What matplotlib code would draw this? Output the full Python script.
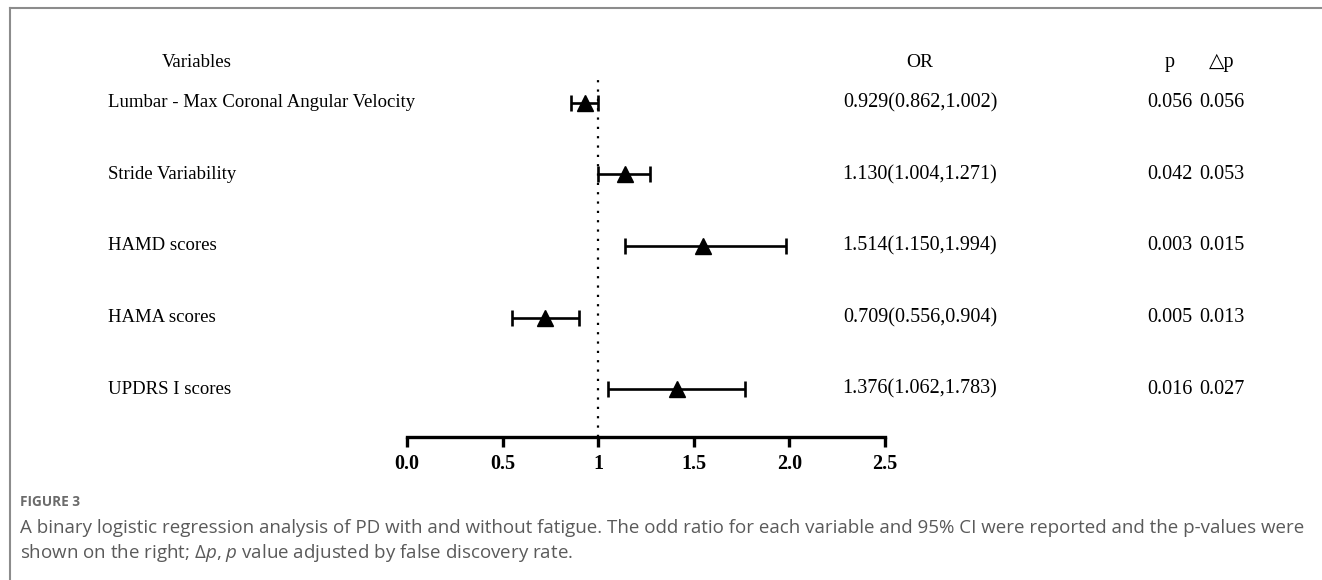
import matplotlib
matplotlib.use("Agg")
import matplotlib.pyplot as plt
from matplotlib.lines import Line2D
import matplotlib.transforms as mtransforms

plt.rcParams['mathtext.fontset'] = 'custom'
plt.rcParams['mathtext.rm'] = 'Open Sans'
plt.rcParams['mathtext.it'] = 'Open Sans:italic'

# data
variables = ["Lumbar - Max Coronal Angular Velocity", "Stride Variability",
             "HAMD scores", "HAMA scores", "UPDRS I scores"]
or_point = [0.93, 1.14, 1.55, 0.72, 1.41]
ci_low = [0.86, 1.00, 1.14, 0.55, 1.05]
ci_high = [1.00, 1.27, 1.98, 0.90, 1.77]
or_text = ["0.929(0.862,1.002)", "1.130(1.004,1.271)", "1.514(1.150,1.994)",
           "0.709(0.556,0.904)", "1.376(1.062,1.783)"]
p_vals = ["0.056", "0.042", "0.003", "0.005", "0.016"]
adj_p_vals = ["0.056", "0.053", "0.015", "0.013", "0.027"]
tick_vals = [0.0, 0.5, 1.0, 1.5, 2.0, 2.5]
tick_labels = ["0.0", "0.5", "1", "1.5", "2.0", "2.5"]

W, H = 1322, 580
fig = plt.figure(figsize=(W / 100, H / 100), dpi=100)

def fx(px):
    return px / W

def fy(py):
    return 1 - py / H

# forest axes: x=0 at 407px, x=2.5 at 885px, top 80px, spine at 437px
ax = fig.add_axes([fx(407), fy(437), fx(885) - fx(407), (437 - 80) / H])
rows = list(range(len(variables)))
ax.set_xlim(0, 2.5)
ax.set_ylim(4.67, -0.32)

ax.errorbar(or_point, rows,
            xerr=[[p - l for p, l in zip(or_point, ci_low)],
                  [h - p for p, h in zip(or_point, ci_high)]],
            fmt='^', color='black', ms=11, elinewidth=1.9, capsize=5.5,
            capthick=1.9, clip_on=False, zorder=3)
ax.axvline(1.0, color='black', lw=1.6, ls=(0, (1, 3.2)), zorder=1)

for s in ['top', 'right', 'left']:
    ax.spines[s].set_visible(False)
ax.spines['bottom'].set_linewidth(2.4)
ax.set_yticks([])
ax.set_xticks(tick_vals)
ax.set_xticklabels(tick_labels)
ax.tick_params(axis='x', direction='out', length=7, width=2.4, pad=5)
for lab in ax.get_xticklabels():
    lab.set_fontfamily('Liberation Serif')
    lab.set_fontweight('bold')
    lab.set_fontsize(14.5)

serif = ['Liberation Serif', 'DejaVu Serif']
tr = mtransforms.blended_transform_factory(fig.transFigure, ax.transData)
hdr_y = -0.57
ax.text(fx(197), hdr_y, "Variables", transform=tr, ha='center', va='center',
        family=serif, fontsize=13.5, clip_on=False)
ax.text(fx(920), hdr_y, "OR", transform=tr, ha='center', va='center',
        family=serif, fontsize=14, clip_on=False)
ax.text(fx(1170), hdr_y, "p", transform=tr, ha='center', va='center',
        family=serif, fontsize=14.5, clip_on=False)
ax.text(fx(1222), hdr_y, "\u25b3p", transform=tr, ha='center', va='center',
        family=serif, fontsize=14.5, clip_on=False)

for i in rows:
    ax.text(fx(108), i, variables[i], transform=tr, ha='left', va='center',
            family=serif, fontsize=13.5, clip_on=False)
    ax.text(fx(920), i, or_text[i], transform=tr, ha='center', va='center',
            family=serif, fontsize=14.5, clip_on=False)
    ax.text(fx(1170), i, p_vals[i], transform=tr, ha='center', va='center',
            family=serif, fontsize=14.5, clip_on=False)
    ax.text(fx(1222), i, adj_p_vals[i], transform=tr, ha='center', va='center',
            family=serif, fontsize=14.5, clip_on=False)

# page frame
fig.add_artist(Line2D([fx(10), 1], [fy(8), fy(8)], color='#8c8c8c', lw=1.5))
fig.add_artist(Line2D([fx(10), fx(10)], [fy(8), 0], color='#8c8c8c', lw=1.5))

# caption
cap = ['Open Sans', 'DejaVu Sans']
fig.text(fx(20), fy(502), "FIGURE 3", ha='left', va='center', family=cap,
         fontsize=9.8, fontweight='bold', color='#6b6b6b')
fig.text(fx(20), fy(528), "A binary logistic regression analysis of PD with and without fatigue. "
         "The odd ratio for each variable and 95% CI were reported and the p-values were",
         ha='left', va='center', family=cap, fontsize=13.5, color='#5a5a5a')
fig.text(fx(20), fy(553), r"shown on the right; Δ$p$, $p$ value adjusted by false discovery rate.",
         ha='left', va='center', family=cap, fontsize=13.5, color='#5a5a5a')

fig.savefig("out.png", dpi=100)
